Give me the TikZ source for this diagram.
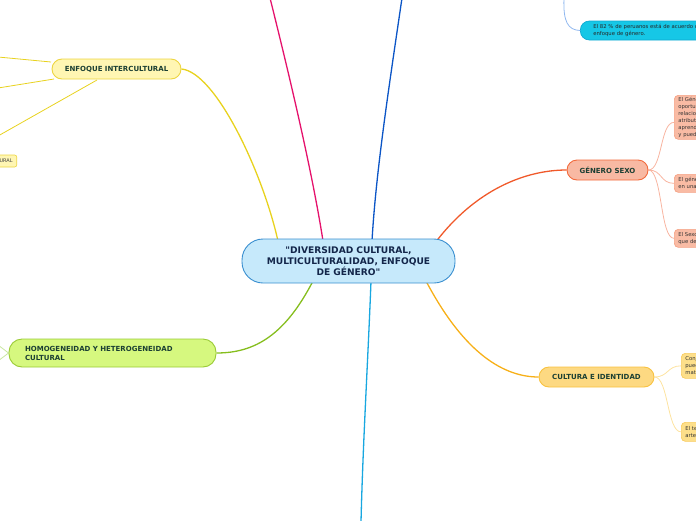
\documentclass[tikz,border=0pt]{standalone}
\usepackage{fontspec}
\setmainfont{DejaVu Sans}
\newfontfamily\qfont{DejaVu Sans}
\usetikzlibrary{backgrounds,calc}
\definecolor{cfill}{HTML}{C6E9FB}
\definecolor{cborder}{HTML}{3A8FD0}
\definecolor{navy}{HTML}{13264A}
\definecolor{dgreen}{HTML}{1B3F33}
\definecolor{yfill}{HTML}{FFF6B3}
\definecolor{yborder}{HTML}{EDD540}
\definecolor{yline}{HTML}{E8D21E}
\definecolor{pinkline}{HTML}{E5126C}
\definecolor{blueline}{HTML}{0B55C6}
\definecolor{lblue}{HTML}{8FB7EF}
\definecolor{cyanfill}{HTML}{16C7E6}
\definecolor{cyanborder}{HTML}{10A9D2}
\definecolor{redline}{HTML}{F0592A}
\definecolor{sfill}{HTML}{F8B9A3}
\definecolor{sborder}{HTML}{F26A3C}
\definecolor{schild}{HTML}{F9BBA4}
\definecolor{schildb}{HTML}{F5A386}
\definecolor{sline}{HTML}{F8B4A0}
\definecolor{gline}{HTML}{86BE1E}
\definecolor{gfill}{HTML}{D6F87F}
\definecolor{gborder}{HTML}{9ACB35}
\definecolor{glight}{HTML}{C8E6A0}
\definecolor{cyline}{HTML}{18A7E0}
\definecolor{oline}{HTML}{F7B018}
\definecolor{ofill}{HTML}{FDD982}
\definecolor{oborder}{HTML}{F8C240}
\definecolor{ochild}{HTML}{FDDF8A}
\definecolor{ochildb}{HTML}{F8CC60}
\definecolor{oclight}{HTML}{FDE3A0}
\tikzset{
  headbox/.style={draw, line width=0.9pt, inner sep=0pt, align=center,
    font=\bfseries\fontsize{7}{9}\selectfont, text=dgreen},
  leafbox/.style={draw, line width=0.7pt, rounded corners=4, inner xsep=4pt, inner ysep=2pt,
    align=left, anchor=north west, font=\fontsize{5.3}{6.9}\selectfont, text=black!80},
  branch/.style={line width=1.3pt},
  twig/.style={line width=0.8pt}
}
\begin{document}
\begin{tikzpicture}[x=1pt,y=-1pt]
\useasboundingbox (0,0) rectangle (696,520);
\clip (0,0) rectangle (696,520);

% central node
\node[draw=cborder, fill=cfill, line width=0.9pt, rounded corners=21, minimum width=213, minimum height=44,
  text width=205, align=center, inner sep=0pt, font=\bfseries\fontsize{9.1}{11}\selectfont, text=navy]
  (center) at (348.5,261) {{\qfont"}DIVERSIDAD CULTURAL,\\ MULTICULTURALIDAD, ENFOQUE\\ DE GÉNERO{\qfont"}};

% first-level nodes
\node[headbox, draw=yborder, fill=yfill, rounded corners=10, minimum width=129, minimum height=20]
  (enf) at (116.5,69) {ENFOQUE INTERCULTURAL};
\node[headbox, draw=sborder, fill=sfill, rounded corners=10, minimum width=81, minimum height=20]
  (gen) at (607.5,170) {GÉNERO SEXO};
\node[headbox, draw=oborder, fill=ofill, rounded corners=10, minimum width=115, minimum height=20]
  (cult) at (596.5,377) {CULTURA E IDENTIDAD};
\node[headbox, draw=gborder, fill=gfill, rounded corners=13, minimum width=207, minimum height=28,
  text width=175, align=left] (homo) at (112.5,353) {HOMOGENEIDAD Y HETEROGENEIDAD\\ CULTURAL};

% small clipped node at left
\node[draw=yborder, fill=yfill, line width=0.6pt, rounded corners=2, inner xsep=4pt, inner ysep=2pt,
  anchor=east, minimum height=12, font=\fontsize{5}{6}\selectfont, text=black!75]
  (inter) at (17,161) {INTERCULTURAL};

% top-right node
\node[draw=cyanborder, fill=cyanfill, line width=0.7pt, rounded corners=9, anchor=west,
  minimum height=19, text width=150, inner xsep=13pt, inner ysep=2pt, align=left,
  font=\fontsize{5.3}{6.9}\selectfont, text=black!85]
  (dato) at (580,30.5) {El 82 \% de peruanos está de acuerdo con el\\ enfoque de género.};

% gender children
\node[leafbox, draw=schildb, fill=schild, minimum height=44, text width=95] (g1) at (674,95)
  {El Género se refiere a las\\ oportunidades, roles y\\ relaciones sociales y a los\\ atributos que son\\ aprendidos socialmente\\ y pueden cambiar.};
\node[leafbox, draw=schildb, fill=schild, minimum height=18, text width=95] (g2) at (674,174)
  {El género se construye\\ en una sociedad.};
\node[leafbox, draw=schildb, fill=schild, minimum height=18, text width=95] (g3) at (674,229)
  {El Sexo es biológico y es lo\\ que determina al ser humano.};

% culture children
\node[leafbox, draw=ochildb, fill=ochild, minimum height=25, text width=95] (k1) at (681,353)
  {Conjunto de rasgos que\\ pueden ser tanto\\ materiales como espirituales.};
\node[leafbox, draw=ochildb, fill=ochild, minimum height=19, text width=95] (k2) at (681,422)
  {El tejido, la danza y el\\ arte son cultura.};

% free ends
\coordinate (pinktop) at (270,-2);
\coordinate (bluetop) at (402,-2);
\coordinate (cyanbot) at (361,522);
\coordinate (lbtop) at (564,-2);
\coordinate (e1) at (-2,57);
\coordinate (e2) at (-2,88);
\coordinate (e3) at (-2,136);
\coordinate (h1) at (-2,345);
\coordinate (h2) at (-2,361);

\begin{scope}[on background layer]
  % main branches
  \draw[branch, yline] (enf.east) .. controls (215,72) and (262,170) .. ([shift={(-70.5,-20)}]center.center);
  \draw[branch, pinkline] (pinktop) .. controls (288,70) and (312,170) .. ([shift={(-25.5,-20)}]center.center);
  \draw[branch, blueline] (bluetop) .. controls (390,80) and (376,170) .. ([shift={(23.5,-20)}]center.center);
  \draw[branch, redline] ([shift={(86.5,-18)}]center.center) .. controls (475,190) and (525,170) .. (gen.west);
  \draw[branch, gline] ([shift={(-35.5,20)}]center.center) .. controls (285,335) and (255,353) .. (homo.east);
  \draw[branch, cyline] ([shift={(22.5,20)}]center.center) .. controls (368,360) and (363,440) .. (cyanbot);
  \draw[branch, oline] ([shift={(77.5,20)}]center.center) .. controls (465,355) and (505,377) .. (cult.west);
  % secondary
  \draw[twig, lblue] (lbtop) .. controls (563,22) and (568,30) .. (dato.west);
  \draw[twig, yline] ([shift={(-65.5,-7)}]enf.center) -- (e1);
  \draw[twig, yline] ([shift={(-62.5,10)}]enf.center) -- (e2);
  \draw[twig, yline] ([shift={(-19.5,11)}]enf.center) -- (e3);
  \draw[twig, glight] (homo.west) -- (h1);
  \draw[twig, glight] (homo.west) -- (h2);
  \draw[twig, sline] (gen.east) .. controls +(14,0) and +(-14,0) .. ([shift={(0,5)}]g1.west);
  \draw[twig, sline] (gen.east) .. controls +(14,0) and +(-14,0) .. (g2.west);
  \draw[twig, sline] (gen.east) .. controls +(14,0) and +(-14,0) .. (g3.west);
  \draw[twig, oclight] (cult.east) .. controls +(14,0) and +(-14,0) .. (k1.west);
  \draw[twig, oclight] (cult.east) .. controls +(14,0) and +(-14,0) .. (k2.west);
\end{scope}
\end{tikzpicture}
\end{document}
